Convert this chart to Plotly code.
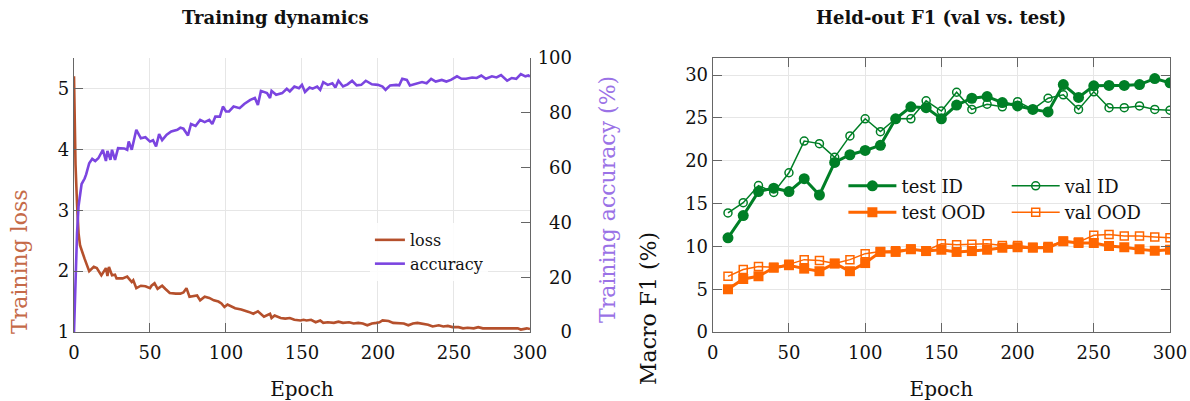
import plotly.graph_objects as go

# ---------------- data: left panel (training dynamics) ----------------
loss_epoch = [0, 1, 2, 3, 4, 5, 7, 10, 13, 15, 18, 21, 22, 23, 25, 27, 28, 32, 35, 38, 39, 41, 44, 47, 50,
              51, 53, 55, 58, 60, 63, 67, 70, 72, 74, 76, 79, 81, 83, 86, 89, 92, 95, 97, 99, 101, 106, 110,
              115, 118, 121, 125, 129, 130, 132, 136, 139, 142, 145, 149, 151, 153, 156, 159, 162, 164, 167,
              171, 174, 177, 181, 184, 187, 190, 193, 196, 199, 201, 203, 207, 210, 213, 217, 220, 223, 226,
              230, 233, 236, 240, 243, 246, 249, 253, 256, 259, 263, 266, 269, 272, 276, 279, 282, 286, 289,
              292, 294, 298, 300]
loss_value = [5.2, 3.75, 3.1, 2.62, 2.42, 2.34, 2.2, 2.0, 2.07, 2.05, 1.93, 2.05, 1.92, 2.07, 1.93, 1.94,
              1.88, 1.88, 1.91, 1.82, 1.85, 1.72, 1.76, 1.75, 1.72, 1.76, 1.8, 1.71, 1.76, 1.71, 1.64, 1.63,
              1.63, 1.65, 1.72, 1.58, 1.59, 1.6, 1.52, 1.58, 1.56, 1.52, 1.5, 1.47, 1.41, 1.45, 1.39, 1.37,
              1.33, 1.3, 1.34, 1.25, 1.3, 1.23, 1.27, 1.23, 1.22, 1.23, 1.2, 1.19, 1.2, 1.19, 1.2, 1.16, 1.19,
              1.15, 1.16, 1.15, 1.17, 1.15, 1.16, 1.14, 1.15, 1.14, 1.11, 1.14, 1.15, 1.16, 1.19, 1.18, 1.15,
              1.15, 1.14, 1.11, 1.14, 1.15, 1.14, 1.12, 1.09, 1.11, 1.09, 1.1, 1.08, 1.08, 1.06, 1.07, 1.06,
              1.08, 1.06, 1.06, 1.06, 1.06, 1.07, 1.07, 1.06, 1.06, 1.04, 1.06, 1.05]

acc_epoch = [0, 1, 2, 3, 4, 5, 7, 8, 10, 12, 14, 16, 19, 21, 22, 24, 25, 27, 29, 33, 35, 36, 38, 41, 44, 47,
             50, 52, 54, 56, 58, 61, 64, 68, 70, 72, 75, 77, 80, 83, 86, 89, 91, 93, 96, 98, 100, 102, 105,
             109, 112, 116, 119, 121, 123, 127, 129, 130, 133, 137, 140, 142, 145, 148, 150, 152, 155, 157,
             160, 162, 164, 167, 170, 172, 174, 177, 180, 183, 186, 189, 192, 196, 200, 203, 205, 208, 212,
             214, 216, 219, 221, 224, 229, 232, 235, 238, 242, 245, 248, 252, 255, 258, 262, 265, 268, 271,
             275, 278, 281, 285, 288, 291, 294, 297, 299, 300]
acc_value = [0, 22, 36, 46, 51, 54, 56, 57.5, 61.6, 63.2, 62.4, 63.4, 66.5, 62.4, 66.1, 62.8, 66.5, 62.8,
             67.1, 67, 66.5, 69.5, 66.5, 73.8, 70.7, 71.1, 69.5, 70, 67.7, 72.2, 70, 72, 73.2, 73.8, 74.6,
             74.2, 71.7, 75.9, 75.2, 77.4, 76.6, 77.4, 75.9, 78.6, 78.6, 82.3, 80.5, 80.5, 82.3, 81.7, 83.2,
             84.7, 85.4, 82.9, 88, 87.2, 85.4, 88, 86.6, 87.2, 88.8, 87.8, 89.6, 89, 90.2, 87.6, 89.2, 88.8,
             89.6, 88.4, 91.2, 90.2, 90.8, 89.2, 91.7, 89.6, 90.4, 91.7, 90, 90.2, 91.7, 90.4, 90.2, 89.6,
             88.4, 90, 90.2, 90, 92.4, 92, 90, 90.4, 91.2, 90.8, 92.4, 91.4, 92, 91.4, 92, 93.3, 92.4, 92.4,
             92.9, 92.7, 93.6, 92.4, 93.3, 92.9, 93.8, 91.7, 92.7, 92.4, 94.1, 93.3, 93.6, 93.2]

# ---------------- data: right panel (held-out F1) ----------------
f1_epoch = [10, 20, 30, 40, 50, 60, 70, 80, 90, 100, 110, 120, 130, 140, 150,
            160, 170, 180, 190, 200, 210, 220, 230, 240, 250, 260, 270, 280, 290, 300]
test_id = [11.0, 13.6, 16.4, 16.8, 16.4, 17.9, 16.0, 19.8, 20.7, 21.2, 21.8, 24.9, 26.3, 26.2, 24.9,
           26.5, 27.3, 27.5, 26.8, 26.4, 26.0, 25.7, 28.9, 27.4, 28.75, 28.8, 28.8, 28.9, 29.6, 29.1]
val_id = [13.9, 15.1, 17.1, 16.3, 18.6, 22.3, 22.0, 20.4, 22.9, 24.9, 23.4, 24.9, 24.9, 27.0, 25.8,
          28.0, 26.0, 26.6, 26.3, 26.9, 26.0, 27.3, 27.7, 26.0, 28.05, 26.2, 26.2, 26.4, 26.0, 25.9]
test_ood = [5.0, 6.2, 6.5, 7.5, 7.8, 7.4, 7.1, 8.0, 7.1, 8.05, 9.35, 9.35, 9.65, 9.45, 9.6,
            9.35, 9.45, 9.6, 9.85, 9.9, 9.85, 9.85, 10.6, 10.4, 10.4, 10.05, 9.9, 9.65, 9.5, 9.6]
val_ood = [6.5, 7.3, 7.65, 7.55, 7.9, 8.45, 8.35, 8.0, 8.45, 9.15, 9.4, 9.5, 9.7, 9.5, 10.3,
           10.2, 10.25, 10.3, 10.1, 10.1, 9.9, 10.0, 10.6, 10.5, 11.3, 11.4, 11.2, 11.2, 11.1, 11.0]

epoch_ticks = [0, 50, 100, 150, 200, 250, 300]
loss_ticks = [1, 2, 3, 4, 5]
acc_ticks = [0, 20, 40, 60, 80, 100]
f1_ticks = [0, 5, 10, 15, 20, 25, 30]

LOSS_C = "#b5502c"
ACC_C = "#7b45e0"
GREEN = "#007f26"
ORANGE = "#ff6600"
FONT = "DejaVu Serif"
AX_C = "#666666"
GRID_C = "#e6e6e6"
TXT = "#111111"

fig = go.Figure()

fig.add_trace(go.Scatter(x=loss_epoch, y=loss_value, mode="lines", name="loss",
                         line=dict(color=LOSS_C, width=2.6), xaxis="x", yaxis="y", legend="legend"))
fig.add_trace(go.Scatter(x=acc_epoch, y=acc_value, mode="lines", name="accuracy",
                         line=dict(color=ACC_C, width=2.6), xaxis="x", yaxis="y2", legend="legend"))

fig.add_trace(go.Scatter(x=f1_epoch, y=test_id, mode="lines+markers", name="test ID",
                         line=dict(color=GREEN, width=3), marker=dict(symbol="circle", size=11, color=GREEN),
                         xaxis="x2", yaxis="y3", legend="legend2"))
fig.add_trace(go.Scatter(x=f1_epoch, y=test_ood, mode="lines+markers", name="test OOD",
                         line=dict(color=ORANGE, width=3), marker=dict(symbol="square", size=10, color=ORANGE),
                         xaxis="x2", yaxis="y3", legend="legend2"))
fig.add_trace(go.Scatter(x=f1_epoch, y=val_id, mode="lines+markers", name="val ID",
                         line=dict(color=GREEN, width=1.5),
                         marker=dict(symbol="circle-open", size=8, color=GREEN, line=dict(width=1.5)),
                         xaxis="x2", yaxis="y3", legend="legend3"))
fig.add_trace(go.Scatter(x=f1_epoch, y=val_ood, mode="lines+markers", name="val OOD",
                         line=dict(color=ORANGE, width=1.5),
                         marker=dict(symbol="square-open", size=8, color=ORANGE, line=dict(width=1.5)),
                         xaxis="x2", yaxis="y3", legend="legend3"))

tickfont = dict(family=FONT, size=18, color=TXT)
common = dict(showline=True, linecolor=AX_C, linewidth=1.2, ticks="inside", ticklen=9,
              tickcolor=AX_C, tickwidth=1.2, tickfont=tickfont, zeroline=False, automargin=False)

FS = "\u2007"
acc_ticktext = [FS * (3 - len(str(v))) + str(v) for v in acc_ticks]

fig.update_layout(
    width=1190, height=401,
    margin=dict(l=74, r=20, t=58, b=69),
    plot_bgcolor="white", paper_bgcolor="white",
    font=dict(family=FONT, color=TXT),
    xaxis=dict(domain=[0, 0.416], anchor="y", range=[0, 300], tickvals=epoch_ticks,
               showgrid=True, gridcolor=GRID_C, mirror=False, ticklabelstandoff=4,
               title=dict(text="Epoch", font=dict(family=FONT, size=20), standoff=22), **common),
    yaxis=dict(domain=[0, 1], anchor="x", range=[1, 5.5], tickvals=loss_ticks,
               showgrid=True, gridcolor=GRID_C, mirror=False, **common),
    yaxis2=dict(overlaying="y", side="right", anchor="x", range=[0, 100], ticklabelstandoff=3,
                tickvals=acc_ticks, ticktext=acc_ticktext, showgrid=False, **common),
    xaxis2=dict(domain=[0.5828, 1], anchor="y3", range=[0, 300], tickvals=epoch_ticks,
                showgrid=True, gridcolor=GRID_C, mirror="ticks", ticklabelstandoff=4,
                ticklabeloverflow="allow",
                title=dict(text="Epoch", font=dict(family=FONT, size=20), standoff=22), **common),
    yaxis3=dict(domain=[0, 1], anchor="x2", range=[0, 32], tickvals=f1_ticks,
                showgrid=True, gridcolor=GRID_C, mirror="ticks", **common),
    legend=dict(x=0.27, y=0.398, xanchor="left", yanchor="top", bgcolor="rgba(255,255,255,0.85)",
                font=dict(family=FONT, size=16, color=TXT), tracegroupgap=0, itemwidth=30),
    legend2=dict(x=0.702, y=0.6, xanchor="left", yanchor="top", bgcolor="rgba(255,255,255,0)",
                 font=dict(family=FONT, size=18, color=TXT), tracegroupgap=0, itemwidth=48),
    legend3=dict(x=0.851, y=0.6, xanchor="left", yanchor="top", bgcolor="rgba(255,255,255,0)",
                 font=dict(family=FONT, size=18, color=TXT), tracegroupgap=0, itemwidth=48),
    annotations=[
        dict(text="<b>Training dynamics</b>", x=0.184, y=1.146, xref="paper", yref="paper",
             xanchor="center", yanchor="middle", showarrow=False, font=dict(family=FONT, size=18)),
        dict(text="<b>Held-out F1 (val vs. test)</b>", x=0.7914, y=1.146, xref="paper", yref="paper",
             xanchor="center", yanchor="middle", showarrow=False, font=dict(family=FONT, size=18)),
        dict(text="Training loss", x=19, y=262, xref="paper", yref="paper", showarrow=False,
             textangle=-90, font=dict(family=FONT, size=22, color="#c56a48"), borderpad=0,
             xanchor="center", yanchor="middle"),
        dict(text="Training accuracy (%)", x=608, y=200, xref="paper", yref="paper", showarrow=False,
             textangle=-90, font=dict(family=FONT, size=22, color="#9a72e6"), borderpad=0,
             xanchor="center", yanchor="middle"),
        dict(text="Macro F1 (%)", x=648, y=309, xref="paper", yref="paper", showarrow=False,
             textangle=-90, font=dict(family=FONT, size=22, color=TXT), borderpad=0,
             xanchor="center", yanchor="middle"),
    ],
)

# convert page-pixel positions of the rotated y-axis titles to paper coordinates
PLOT_L, PLOT_W, PLOT_T, PLOT_H = 74, 1096, 58, 274
for ann in fig.layout.annotations[2:]:
    ann.x = (ann.x - PLOT_L) / PLOT_W
    ann.y = (PLOT_T + PLOT_H - ann.y) / PLOT_H

# remove the browser's default body margin so the figure fills the window exactly
fig.write_html("out.html", config={"displayModeBar": False},
               post_script="document.body.style.margin='0px';document.body.style.overflow='hidden';")
